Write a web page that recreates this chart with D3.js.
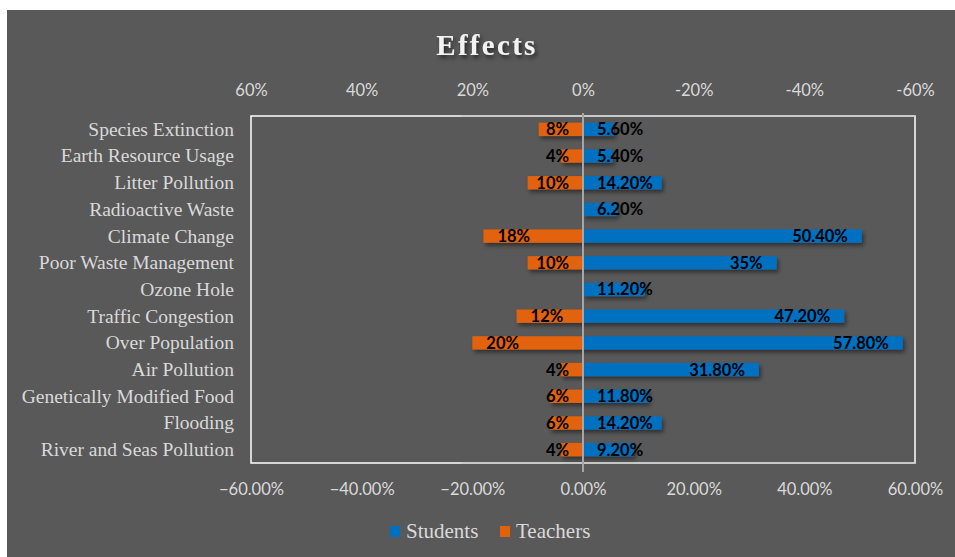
<!DOCTYPE html>
<html><head><meta charset="utf-8">
<script src="https://cdn.jsdelivr.net/npm/d3@7"></script>
<style>html,body{margin:0;padding:0;background:#fff;}svg{display:block;}</style>
</head><body>
<svg id="c" width="955" height="557"></svg>
<script>
const categories = ["Species Extinction","Earth Resource Usage","Litter Pollution","Radioactive Waste","Climate Change","Poor Waste Management","Ozone Hole","Traffic Congestion","Over Population","Air Pollution","Genetically Modified Food","Flooding","River and Seas Pollution"];
const students = [5.6,5.4,14.2,6.2,50.4,35,11.2,47.2,57.8,31.8,11.8,14.2,9.2];
const studentLabels = ["5.60%","5.40%","14.20%","6.20%","50.40%","35%","11.20%","47.20%","57.80%","31.80%","11.80%","14.20%","9.20%"];
const teachers = [8,4,10,0,18,10,0,12,20,4,6,6,4];
const teacherLabels = ["8%","4%","10%","","18%","10%","","12%","20%","4%","6%","6%","4%"];
const topTicks = [60,40,20,0,-20,-40,-60];
const bottomTicks = [-60,-40,-20,0,20,40,60];
const seriesNames = ["Students","Teachers"];
const colors = {Students:"#0070c0", Teachers:"#e36209"};

const svg = d3.select("#c");
const defs = svg.append("defs");
const f = defs.append("filter").attr("id","sh").attr("x","-10%").attr("y","-50%").attr("width","130%").attr("height","250%");
f.append("feDropShadow").attr("dx",2).attr("dy",3).attr("stdDeviation",2).attr("flood-color","#000").attr("flood-opacity",0.45);
const ft = defs.append("filter").attr("id","tsh").attr("x","-10%").attr("y","-30%").attr("width","130%").attr("height","180%");
ft.append("feDropShadow").attr("dx",2).attr("dy",3).attr("stdDeviation",2).attr("flood-color","#000").attr("flood-opacity",0.6);

svg.append("rect").attr("x",7).attr("y",10).attr("width",948).attr("height",547).attr("fill","#595959");

const L=251, R=915, T=116, B=463;
const xBot = d3.scaleLinear().domain([-60,60]).range([L,R]);
const xTop = d3.scaleLinear().domain([60,-60]).range([L,R]);
const y = d3.scaleBand().domain(categories).range([T,B]).paddingInner(0.5).paddingOuter(0.25);

// title
svg.append("text").attr("x",487).attr("y",55).attr("text-anchor","middle")
  .attr("font-family","'Liberation Serif','Times New Roman',serif").attr("font-weight","bold")
  .attr("font-size",29).attr("letter-spacing",2.3).attr("fill","#f2f2f2").attr("filter","url(#tsh)").text("Effects");

// axes
const tickFont = "Lato, 'Open Sans', sans-serif";
const topAxis = d3.axisTop(xTop).tickValues(topTicks).tickFormat(d=>d+"%").tickSize(0).tickPadding(0);
const gTop = svg.append("g").attr("transform","translate(0,96)").call(topAxis);
const botAxis = d3.axisBottom(xBot).tickValues(bottomTicks).tickFormat(d=>d3.format(".2f")(d)+"%").tickSize(0).tickPadding(0);
const gBot = svg.append("g").attr("transform","translate(0,483)").call(botAxis);
[gTop,gBot].forEach(g=>{
  g.select(".domain").remove();
  g.selectAll("text").attr("font-family",tickFont).attr("font-size",16.5).attr("fill","#d9d9d9");
});
gBot.selectAll("text").attr("dy","0.72em");

// frame
svg.append("rect").attr("x",L).attr("y",T).attr("width",R-L).attr("height",B-T)
  .attr("fill","none").attr("stroke","#ffffff").attr("stroke-width",1.5);
svg.append("line").attr("x1",xBot(-22)).attr("x2",R).attr("y1",T).attr("y2",T).attr("stroke","#c4c4c4").attr("stroke-width",1.5);
svg.append("line").attr("x1",xBot(-22)).attr("x2",R).attr("y1",B).attr("y2",B).attr("stroke","#c4c4c4").attr("stroke-width",1.5);

// category labels
svg.append("g").selectAll("text").data(categories).join("text")
  .attr("x",234).attr("y",d=>y(d)+y.bandwidth()/2).attr("dy","0.33em").attr("text-anchor","end")
  .attr("font-family","'Liberation Serif','Times New Roman',serif").attr("font-size",19.5).attr("fill","#d9d9d9").text(d=>d);

// bars
const gb = svg.append("g").attr("filter","url(#sh)");
gb.selectAll("rect.s").data(categories).join("rect").attr("class","s")
  .attr("x",xBot(0)).attr("y",d=>y(d)).attr("height",y.bandwidth())
  .attr("width",(d,i)=>xBot(students[i])-xBot(0)).attr("fill",colors.Students);
gb.selectAll("rect.t").data(categories).join("rect").attr("class","t")
  .attr("x",(d,i)=>xTop(teachers[i])).attr("y",d=>y(d)).attr("height",y.bandwidth())
  .attr("width",(d,i)=>xTop(0)-xTop(teachers[i])).attr("fill",colors.Teachers);

// zero line
svg.append("line").attr("x1",xBot(0)).attr("x2",xBot(0)).attr("y1",T-3).attr("y2",B+9).attr("stroke","#a6a6a6").attr("stroke-width",2);

// data labels
const pad = 14;
const lblFont = "Lato, 'Open Sans', sans-serif";
const gl = svg.append("g");
categories.forEach((c,i)=>{
  const cy = y(c)+y.bandwidth()/2;
  const x0 = xBot(0);
  const ts = gl.append("text").attr("y",cy).attr("dy","0.36em").attr("font-family",lblFont).attr("font-weight",700)
    .attr("font-size",16.5).attr("fill","#000").text(studentLabels[i]);
  const w = ts.node().getComputedTextLength();
  const xe = xBot(students[i]);
  if (xe - pad - w < x0 + pad) ts.attr("x",x0+pad).attr("text-anchor","start");
  else ts.attr("x",xe-pad).attr("text-anchor","end");
  if (teacherLabels[i]) {
    const tt = gl.append("text").attr("y",cy).attr("dy","0.36em").attr("font-family",lblFont).attr("font-weight",700)
      .attr("font-size",16.5).attr("fill","#000").text(teacherLabels[i]);
    const w2 = tt.node().getComputedTextLength();
    const xl = xTop(teachers[i]);
    if (xl + pad + w2 > x0 - pad) tt.attr("x",x0-pad).attr("text-anchor","end");
    else tt.attr("x",xl+pad).attr("text-anchor","start");
  }
});

// legend
const lg = svg.append("g");
const legX = [390, 500];
seriesNames.forEach((s,i)=>{
  lg.append("rect").attr("x",legX[i]).attr("y",526).attr("width",10).attr("height",11).attr("fill",colors[s]);
  lg.append("text").attr("x",legX[i]+16).attr("y",538).attr("font-family","'Liberation Serif','Times New Roman',serif")
    .attr("font-size",21).attr("fill","#d9d9d9").text(s);
});
</script>
</body></html>
